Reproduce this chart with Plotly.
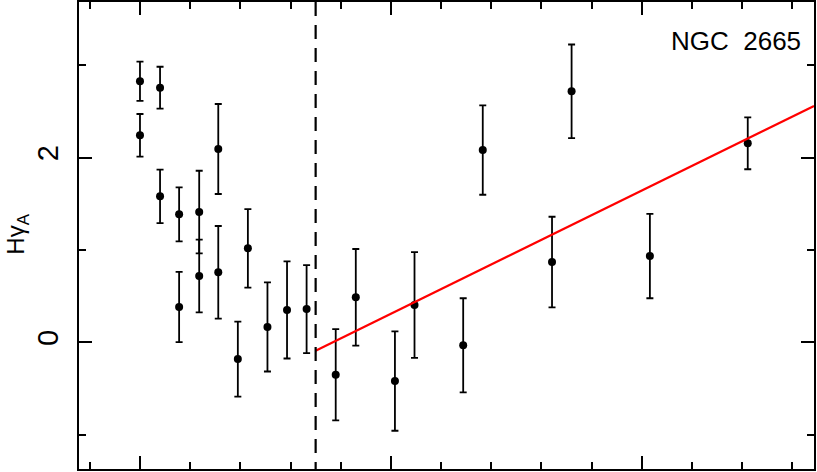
import plotly.graph_objects as go

# Data
x_vals = [5.00, 5.40, 5.00, 6.56, 5.40, 5.78, 6.18, 5.78, 6.18, 6.56, 7.15, 6.95, 7.54,
          7.93, 8.32, 8.90, 9.30, 10.08, 10.47, 11.44, 11.83, 13.21, 13.60, 15.16, 17.11]
y_vals = [2.825, 2.755, 2.240, 2.092, 1.580, 1.385, 1.410, 0.382, 0.718, 0.758, 1.017, -0.181, 0.166,
          0.350, 0.360, -0.351, 0.487, -0.419, 0.404, -0.032, 2.081, 0.869, 2.716, 0.934, 2.154]
y_errs = [0.213, 0.227, 0.231, 0.487, 0.289, 0.292, 0.447, 0.381, 0.393, 0.501, 0.425, 0.406, 0.482,
          0.525, 0.476, 0.494, 0.523, 0.538, 0.572, 0.509, 0.484, 0.490, 0.507, 0.457, 0.281]

fit_x = [8.50, 18.43]
fit_y = [-0.091, 2.557]

break_x = 8.50

x_range = [3.785, 18.43]
y_range = [-1.371, 3.683]

label_text = "NGC\u00a0\u00a02665"
ytitle = "Hγ<sub>A</sub>"

FONT = "Liberation Sans, Arial, sans-serif"

fig = go.Figure()

fig.add_trace(go.Scatter(
    x=x_vals, y=y_vals, mode="markers",
    marker=dict(color="black", size=8),
    error_y=dict(type="data", array=y_errs, visible=True, color="black", thickness=1.8, width=3.5),
    showlegend=False, cliponaxis=False,
))

fig.add_trace(go.Scatter(
    x=fit_x, y=fit_y, mode="lines",
    line=dict(color="red", width=2.2),
    showlegend=False,
))

fig.add_shape(type="line", xref="x", yref="paper", x0=break_x, x1=break_x, y0=1, y1=0,
              line=dict(color="black", width=2.2, dash="14px,9px"))

fig.add_annotation(text=label_text, xref="paper", yref="paper", x=0.985, y=0.9165,
                   xanchor="right", yanchor="middle", showarrow=False,
                   font=dict(family=FONT, size=26, color="black"))

fig.add_annotation(text=ytitle, xref="paper", yref="paper", x=-0.083, y=0.504,
                   xanchor="center", yanchor="middle", showarrow=False, textangle=-90,
                   font=dict(family=FONT, size=24, color="black"))

axis_common = dict(
    showline=True, linecolor="black", linewidth=1.7, mirror="ticks",
    ticks="inside", ticklen=13, tickwidth=1.7, tickcolor="black",
    showgrid=False, zeroline=False, automargin=False,
)

fig.update_xaxes(range=x_range, tickmode="linear", tick0=5, dtick=5, showticklabels=False,
                 minor=dict(ticks="inside", dtick=1, ticklen=7, tickwidth=1.7, tickcolor="black", showgrid=False),
                 **axis_common)
fig.update_yaxes(range=y_range, tickmode="linear", tick0=0, dtick=2, tickangle=-90,
                 tickfont=dict(family=FONT, size=29, color="black"), ticklabelstandoff=8,
                 minor=dict(ticks="inside", dtick=1, ticklen=7, tickwidth=1.7, tickcolor="black", showgrid=False),
                 **axis_common)

fig.update_layout(
    width=817, height=472,
    margin=dict(l=79, r=3, t=2, b=3, autoexpand=False),
    paper_bgcolor="white", plot_bgcolor="white",
    font=dict(family=FONT, color="black"),
)

fig.write_html("out.html", config={"displayModeBar": False},
               post_script="document.body.style.margin='0px';document.body.style.padding='0px';")
